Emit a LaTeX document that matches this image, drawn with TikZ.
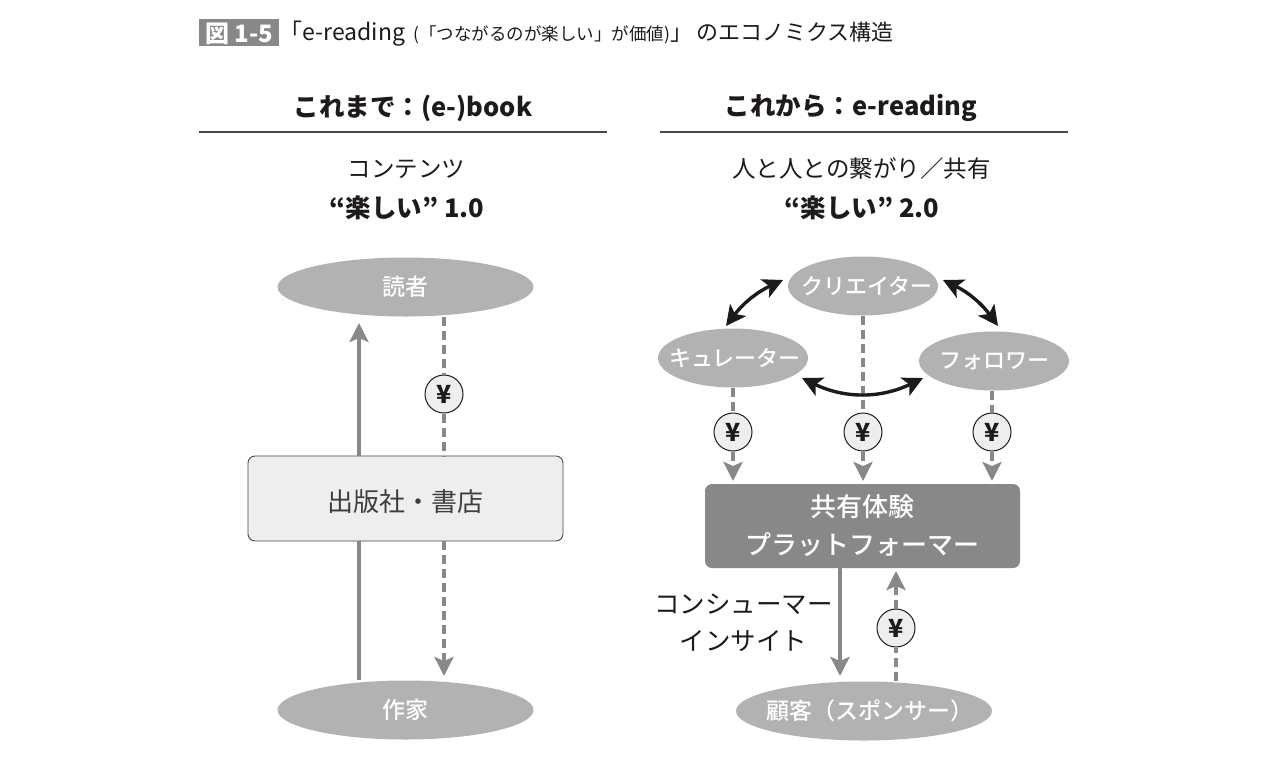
\documentclass[tikz,border=0pt]{standalone}
\usepackage{fontspec}
\setmainfont{Noto Sans CJK JP}
\newfontfamily\medio{Noto Sans CJK JP Medium}
\usetikzlibrary{arrows.meta,shapes.geometric}
\definecolor{negro}{RGB}{30,26,26}
\definecolor{grisf}{RGB}{136,136,136}
\definecolor{griso}{RGB}{178,178,178}
\definecolor{grisc}{RGB}{238,238,238}
\newcommand{\fs}[1]{\fontsize{#1}{#1}\selectfont}
\newcommand{\enov}[1]{\makebox[0pt]{\raisebox{-1pt}{#1}}}
\newcommand{\engr}[1]{\makebox[0pt]{\raisebox{-2pt}{#1}}}
\tikzset{
  ovalo/.style={ellipse, fill=griso, inner sep=0pt, text=white, font=\fs{22}\medio},
  ovgr/.style={ovalo, minimum width=256pt, minimum height=59pt, font=\fs{23}\medio},
  ovch/.style={ovalo, minimum width=150pt, minimum height=59pt},
  caja/.style={draw=negro!80, fill=grisc, rounded corners=7pt, line width=0.9pt, minimum width=315pt, minimum height=85pt, text height=28pt, text depth=3pt, font=\fs{26}, text=negro!85},
  plat/.style={fill=grisf, rounded corners=7pt, minimum width=315pt, minimum height=84pt, align=center, text=white, font=\fs{26}\medio, inner sep=0pt},
  moneda/.style={circle, draw=negro, fill=grisc, line width=1pt, minimum size=38pt, inner sep=0pt, font=\fs{25}\bfseries, text=negro},
  cab/.style={font=\fs{25.5}\bfseries, text=negro},
  sub/.style={font=\fs{23.5}, text=negro},
  val/.style={font=\fs{25.5}\bfseries, text=negro},
  fl/.style={-{Stealth[length=19pt,width=19pt,inset=4pt]}, line width=3.6pt, grisf},
  lin/.style={line width=3.6pt, grisf},
  fld/.style={fl, dash pattern=on 9pt off 5pt},
  lind/.style={lin, dash pattern=on 9pt off 5pt},
  flb/.style={{Stealth[length=20pt,width=20pt,inset=5pt]}-{Stealth[length=20pt,width=20pt,inset=5pt]}, line width=3.4pt, negro},
  regla/.style={line width=1.2pt, negro!80},
}
\begin{document}
\begin{tikzpicture}[x=1pt, y=-1pt]
  \useasboundingbox (0,0) rectangle (1272,764);
  \node[fill=grisf, text=white, font=\fs{24}\bfseries, minimum width=80pt, minimum height=27pt, text height=21pt, text depth=0pt, inner sep=0pt] (fig) at (239,32) {図 1-5};
  \node[anchor=west, inner sep=0pt, font=\fs{22}, text=negro] (tit) at (279.5,34) {{\fs{23}「e-reading}\kern8pt{\fs{17.5}(「つながるのが楽しい」が価値)}」\kern4pt のエコノミクス構造};

  \node[cab] (izq) at (413,108) {これまで：(e-)book};
  \node[cab] (der) at (851,108) {これから：e-reading};
  \draw[regla] (199,132) -- (607,132);
  \draw[regla] (660,132) -- (1068,132);
  \node[sub] (cont) at (406.5,169) {コンテンツ};
  \node[sub] (lazo) at (861.5,169) {人と人との繋がり／共有};
  \node[val] (v1) at (407,208) {“楽しい” 1.0};
  \node[val] (v2) at (862,208) {“楽しい” 2.0};

  \node[ovgr] (lector) at (405.5,287) {\engr{読者}};
  \node[caja] (edit) at (405.5,498.5) {出版社・書店};
  \node[ovgr] (autor) at (405.5,710) {\engr{作家}};
  \node[moneda] (y0) at (444,394) {¥};
  \coordinate (a0) at (359,323);
  \coordinate (a1) at (444,676);
  \draw[fl] (edit.north -| a0) -- (a0);
  \draw[lin] (autor.north -| a0) -- (edit.south -| a0);
  \draw[lind] (lector.south -| y0) -- (y0);
  \draw[lind] (y0) -- (edit.north -| y0);
  \draw[fld] (edit.south -| a1) -- (a1);

  \node[ovch] (crea) at (863,286) {\enov{\kern8pt クリエイター}};
  \node[ovch] (cura) at (733,358) {\enov{\kern4pt キュレーター}};
  \node[ovch] (segu) at (994,361) {\enov{フォロワー}};
  \node[plat] (pf) at (862.5,526) {共有体験\\[12pt]プラットフォーマー};
  \node[ovgr] (clie) at (864,711) {\engr{\kern12pt 顧客（スポンサー）}};
  \node[moneda] (y1) at (733,432) {¥};
  \node[moneda] (y2) at (863,432) {¥};
  \node[moneda] (y3) at (992,432) {¥};
  \node[moneda] (y4) at (896,628) {¥};
  \node[align=center, font=\fs{25.5}, text=negro] (ins) at (743.5,623) {コンシューマー\\[11.5pt]インサイト};
  \coordinate (p1) at (733,481);
  \coordinate (p2) at (863,481);
  \coordinate (p3) at (992,481);
  \coordinate (p4) at (896,571);
  \coordinate (p5) at (840,676);
  \draw[lind] (cura.south -| y1) -- (y1);
  \draw[lind] (crea.south -| y2) -- (y2);
  \draw[lind] (segu.south -| y3) -- (y3);
  \draw[fld] (y1) -- (p1);
  \draw[fld] (y2) -- (p2);
  \draw[fld] (y3) -- (p3);
  \draw[lind] (clie.north -| y4) -- (y4);
  \draw[fld] (y4) -- (p4);
  \draw[fl] (pf.south -| p5) -- (p5);

  \coordinate (b1) at (783,280);
  \coordinate (b2) at (726,326);
  \coordinate (b3) at (943,280);
  \coordinate (b4) at (998,326);
  \coordinate (b5) at (802,378);
  \coordinate (b6) at (923,378);
  \draw[flb] (b1) to[bend right=14] (b2);
  \draw[flb] (b3) to[bend left=14] (b4);
  \draw[flb] (b5) to[bend right=26] (b6);
\end{tikzpicture}
\end{document}
